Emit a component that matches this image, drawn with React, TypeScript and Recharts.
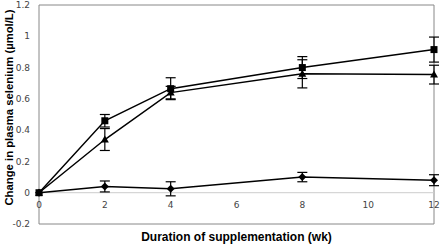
import { ComposedChart, Line, XAxis, YAxis, ErrorBar, ReferenceLine, ReferenceArea } from "recharts"

const weeks = [0, 2, 4, 8, 12]
const squareMean = [0, 0.46, 0.665, 0.8, 0.915]
const squareErr = [0, 0.04, 0.07, 0.07, 0.08]
const triangleMean = [0, 0.34, 0.64, 0.76, 0.755]
const triangleErr = [0, 0.07, 0.04, 0.09, 0.06]
const diamondMean = [0, 0.04, 0.025, 0.1, 0.08]
const diamondErr = [0, 0.035, 0.045, 0.03, 0.035]

const xTicks = [0, 2, 4, 6, 8, 10, 12]
const yTicks = [-0.2, 0, 0.2, 0.4, 0.6, 0.8, 1, 1.2]

const data = weeks.map((w, i) => ({
  week: w,
  sq: squareMean[i],
  sqErr: squareErr[i],
  tri: triangleMean[i],
  triErr: triangleErr[i],
  dia: diamondMean[i],
  diaErr: diamondErr[i],
}))

const tickFont = { fontSize: 9, fill: "#444", fontFamily: "DejaVu Sans" }
const titleFont = { fontSize: 12, fontWeight: 700, fill: "#000", fontFamily: "Liberation Sans" }

const SquareDot = (p: any) => (
  <rect key={p.index} x={p.cx - 3.5} y={p.cy - 3.5} width={7} height={7} fill="#000" />
)
const TriangleDot = (p: any) => (
  <path key={p.index} d={`M${p.cx},${p.cy - 4} L${p.cx + 4},${p.cy + 3} L${p.cx - 4},${p.cy + 3} Z`} fill="#000" />
)
const DiamondDot = (p: any) => (
  <path key={p.index} d={`M${p.cx},${p.cy - 4} L${p.cx + 4},${p.cy} L${p.cx},${p.cy + 4} L${p.cx - 4},${p.cy} Z`} fill="#000" />
)

export default function App() {
  return (
    <div style={{ position: "fixed", left: 0, top: 0, background: "#fff" }}>
      <ComposedChart width={440} height={245} data={data} margin={{ top: 5, right: 6, left: 0, bottom: 0 }}>
        <ReferenceArea x1={0} x2={12} y1={-0.2} y2={1.2} fill="none" stroke="#888" strokeWidth={1} />
        <ReferenceLine y={0} stroke="#ccc" strokeWidth={1} />
        <XAxis
          type="number"
          dataKey="week"
          domain={[0, 12]}
          ticks={xTicks}
          axisLine={false}
          tickLine={false}
          height={21}
          tick={{ ...tickFont, dy: -30 }}
          label={{ value: "Duration of supplementation (wk)", position: "insideBottom", offset: 4, style: titleFont }}
        />
        <YAxis
          type="number"
          domain={[-0.2, 1.2]}
          ticks={yTicks}
          axisLine={false}
          tickLine={false}
          width={39}
          tickMargin={3}
          tick={tickFont}
          label={{
            value: "Change in plasma selenium (µmol/L)",
            angle: -90,
            position: "insideLeft",
            offset: 9,
            dy: -7,
            style: { ...titleFont, fontSize: 11.3, textAnchor: "middle" },
          }}
        />
        <Line dataKey="dia" stroke="#000" strokeWidth={1.5} dot={DiamondDot} isAnimationActive={false}>
          <ErrorBar dataKey="diaErr" width={5} stroke="#000" strokeWidth={1.2} direction="y" />
        </Line>
        <Line dataKey="tri" stroke="#000" strokeWidth={1.5} dot={TriangleDot} isAnimationActive={false}>
          <ErrorBar dataKey="triErr" width={5} stroke="#000" strokeWidth={1.2} direction="y" />
        </Line>
        <Line dataKey="sq" stroke="#000" strokeWidth={1.5} dot={SquareDot} isAnimationActive={false}>
          <ErrorBar dataKey="sqErr" width={5} stroke="#000" strokeWidth={1.2} direction="y" />
        </Line>
      </ComposedChart>
    </div>
  )
}
